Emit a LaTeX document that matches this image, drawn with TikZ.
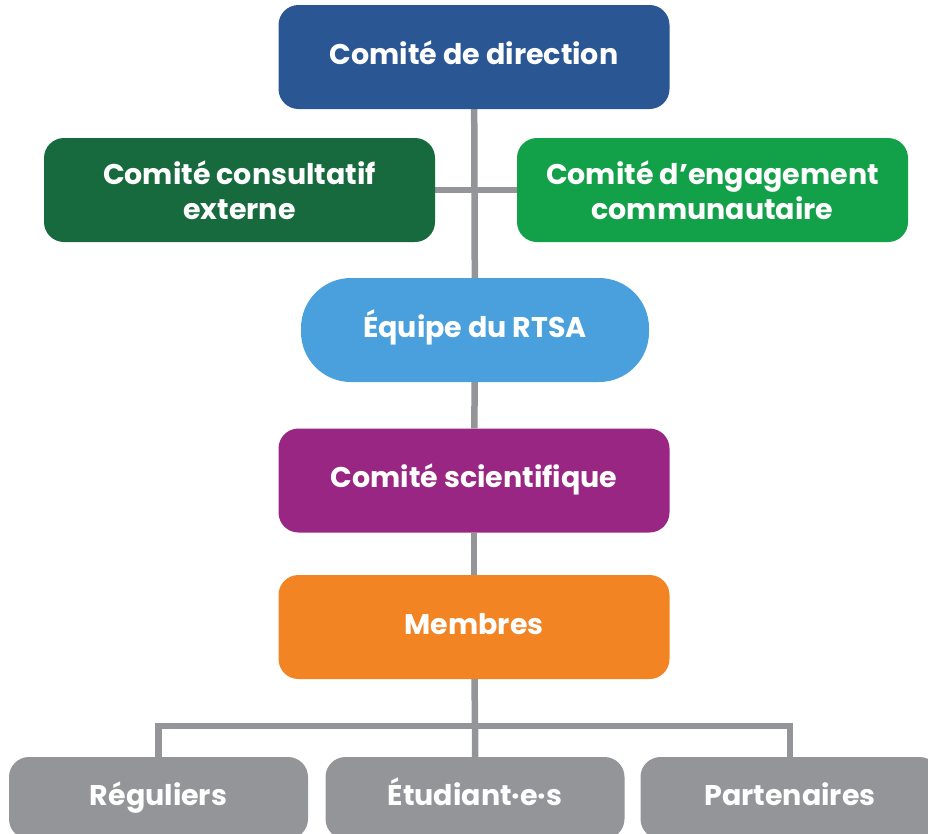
\documentclass[tikz,border=0pt]{standalone}
\usepackage{fontspec}
\setmainfont{Poppins}
\usetikzlibrary{positioning,calc,backgrounds}
\definecolor{dirBlue}{HTML}{2A5794}
\definecolor{consGreen}{HTML}{176A3E}
\definecolor{engGreen}{HTML}{12A048}
\definecolor{rtsaBlue}{HTML}{4AA0DC}
\definecolor{sciPurple}{HTML}{9A2683}
\definecolor{membOrange}{HTML}{F28424}
\definecolor{linkGray}{HTML}{939598}

\begin{document}
\begin{tikzpicture}[
  x=1pt, y=-1pt,
  font=\fontsize{28.5}{35}\selectfont\bfseries,
  %% Node styles
  unit/.style={
    rectangle, rounded corners=20pt, draw=none,
    text=white, align=center, inner sep=0pt,
    minimum width=391pt, minimum height=104pt
  },
  oneline/.style={text height=20pt, text depth=6pt},
  pill/.style={
    unit, oneline, rounded corners=50pt,
    minimum width=348pt
  },
  member/.style={
    unit, oneline, fill=linkGray,
    minimum width=299pt, minimum height=82pt
  },
  %% Connector style
  link/.style={draw=linkGray, line width=6.5pt},
]
\useasboundingbox (0,0) rectangle (928,833);

%% ── Governance ─────────────────────────────────────────────────────────────
\node[unit, oneline, fill=dirBlue] (dir)  at (474,57)  {Comité de direction};
\node[unit, fill=consGreen] (cons) at (239.5,190) {Comité consultatif\\externe};
\node[unit, fill=engGreen]  (eng)  at (712.5,190) {Comité d’engagement\\communautaire};

%% ── Core ───────────────────────────────────────────────────────────────────
\node[pill, fill=rtsaBlue]            (rtsa) at (475,330)   {Équipe du RTSA};
\node[unit, oneline, fill=sciPurple]  (sci)  at (474,480.5) {Comité scientifique};
\node[unit, oneline, fill=membOrange] (memb) at (474,627)   {Membres};

%% ── Member categories ──────────────────────────────────────────────────────
\node[member] (reg)  at (158.5,798) {Réguliers};
\node[member] (etud) at (475,798)   {Étudiant·e·s};
\node[member] (part) at (790,798)   {Partenaires};

%% ── Connectors ─────────────────────────────────────────────────────────────
\begin{scope}[on background layer]
  \draw[link] (dir) -- (rtsa);
  \draw[link] (cons) -- (eng);
  \draw[link] (rtsa) -- (sci);
  \draw[link] (sci) -- (memb);
  \coordinate (split) at (475,726);
  \draw[link] (memb) -- (split) -- (etud);
  \draw[link] (split) -| (reg);
  \draw[link] (split) -| (part);
\end{scope}

\end{tikzpicture}
\end{document}
